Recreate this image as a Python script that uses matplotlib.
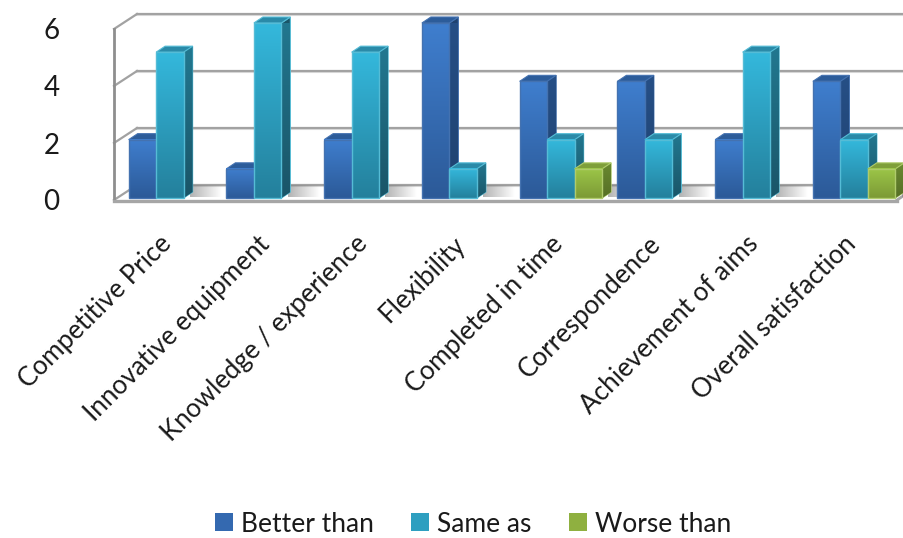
import numpy as np
import matplotlib
matplotlib.use("Agg")
import matplotlib.pyplot as plt
from matplotlib.colors import to_rgb
from matplotlib.patches import Polygon, Patch, Rectangle
from matplotlib.transforms import Affine2D

categories = ["Competitive Price", "Innovative equipment", "Knowledge / experience",
              "Flexibility", "Completed in time", "Correspondence",
              "Achievement of aims", "Overall satisfaction"]
better = [2, 1, 2, 6, 4, 4, 2, 4]
same = [5, 6, 5, 1, 2, 2, 5, 2]
worse = [0, 0, 0, 0, 1, 0, 0, 1]
series_names = ["Better than", "Same as", "Worse than"]
y_ticks = [0, 2, 4, 6]

W, H = 904, 538
plt.rcParams['font.family'] = ['Lato', 'DejaVu Sans']
fig = plt.figure(figsize=(W / 100, H / 100), dpi=100, facecolor='white')


def axes_px(x0, x1, ytop, ybot, **kw):
    return fig.add_axes([x0 / W, 1 - ybot / H, (x1 - x0) / W, (ybot - ytop) / H], **kw)


# wall / floor axes
wall = axes_px(114, 897, 29, 200)
wall.set_xlim(0, 8)
wall.set_ylim(0, 6)
wall.patch.set_alpha(0)
for s in wall.spines.values():
    s.set_visible(False)
wall.set_yticks(y_ticks)
wall.set_xticks([])
wall.tick_params(axis='y', length=0, pad=45, labelsize=20, labelcolor='#1a1a1a')
for t in wall.get_yticklabels():
    t.set_horizontalalignment('center')

wdx = 23 / 783 * 8
wdy = 15 / 171 * 6
GRID = '#A2A2A2'
wall.add_patch(Polygon([(0, 0), (8, 0), (8 + wdx, wdy), (wdx, wdy)], closed=True,
                       facecolor='#FFFFFF', edgecolor='none', zorder=1, clip_on=False))
for v in y_ticks:
    wall.plot([wdx, 8 + wdx], [v + wdy - 0.05] * 2, color='#DDDDDD', lw=1.5, zorder=1.1, clip_on=False)
    wall.plot([wdx, 8 + wdx], [v + wdy] * 2, color=GRID, lw=1.6, zorder=1.2, clip_on=False)
    wall.plot([0, wdx], [v, v + wdy], color=GRID, lw=1.6, zorder=1.2, clip_on=False)
wall.plot([0, 0], [0, 6], color='#8E8E8E', lw=2, zorder=2, clip_on=False)
wall.plot([0, 8], [-0.02, -0.02], color='#A6A6A6', lw=2.4, zorder=2, clip_on=False)
wall.plot([8, 8 + 0.8 * wdx], [0, 0.8 * wdy], color='#A6A6A6', lw=2.0, zorder=2, clip_on=False)

# bars axes
ax = axes_px(121, 903, 23, 198)
ax.set_xlim(0, 8)
ax.set_ylim(0, 6)
ax.patch.set_alpha(0)
for s in ax.spines.values():
    s.set_visible(False)
ax.set_yticks([])
x = np.arange(len(categories)) + 0.5
ax.set_xticks(x)
ax.set_xticklabels(categories, rotation=45, ha='right', rotation_mode='anchor',
                   fontsize=18.7, color='#1a1a1a')
ax.tick_params(axis='x', length=0, pad=24)
for lab in ax.get_xticklabels():
    lab.set_transform(lab.get_transform() + Affine2D().translate(-11, 0))

bw = 27.5 / 97.75
ddx = 9 / 97.75
ddy = 6 / 29.17

palette = [
    dict(front=('#3F7ECE', '#2C5A98'), side=('#264F86', '#1F4270'), top='#2C5C9A', edge='#4472B0'),
    dict(front=('#34B8DC', '#24809C'), side=('#227890', '#1A5568'), top='#2A8AA8', edge='#55BCD6'),
    dict(front=('#9CC648', '#7C9A36'), side=('#6A8A30', '#566F26'), top='#7F9F3A', edge='#AFCB6C'),
]


def gradient(axis, x0, x1, y0, y1, ctop, cbot, z, clip=None):
    c0, c1 = np.array(to_rgb(ctop)), np.array(to_rgb(cbot))
    t = np.linspace(0, 1, 64)[:, None, None]
    img = c0[None, None, :] * (1 - t) + c1[None, None, :] * t
    im = axis.imshow(img, extent=(x0, x1, y0, y1), origin='upper', aspect='auto',
                     interpolation='bilinear', zorder=z)
    if clip is not None:
        im.set_clip_path(clip)
    else:
        im.set_clip_on(False)
    return im


def shadow(axis, x0, width, z):
    n = 48
    img = np.ones((1, n, 4))
    img[..., :3] = 0.5
    img[0, :, 3] = np.linspace(0.6, 0, n)
    axis.imshow(img, extent=(x0, x0 + width, 0.03, 0.41), origin='upper', aspect='auto',
                interpolation='bilinear', zorder=z, clip_on=False)


z = 10
for i, cx in enumerate(x):
    vals = [better[i], same[i], worse[i]]
    last = max(j for j, v in enumerate(vals) if v > 0)
    shadow(ax, cx - 1.5 * bw + (last + 1) * bw + ddx * 0.7, 0.32, 5)
    for j, v in enumerate(vals):
        if v <= 0:
            continue
        st = palette[j]
        x0 = cx - 1.5 * bw + j * bw
        x1 = x0 + bw
        side = Polygon([(x1, 0), (x1 + ddx, ddy), (x1 + ddx, v + ddy), (x1, v)], closed=True,
                       facecolor=st['side'][1], edgecolor=st['edge'], lw=0.8, zorder=z,
                       clip_on=False)
        ax.add_patch(side)
        gradient(ax, x1, x1 + ddx, 0, v + ddy, st['side'][0], st['side'][1], z + 0.1, clip=side)
        top = Polygon([(x0, v), (x1, v), (x1 + ddx, v + ddy), (x0 + ddx, v + ddy)], closed=True,
                      facecolor=st['top'], edgecolor=st['edge'], lw=0.8, zorder=z + 0.2,
                      clip_on=False)
        ax.add_patch(top)
        gradient(ax, x0, x1, 0, v, st['front'][0], st['front'][1], z + 0.3)
        ax.add_patch(Rectangle((x0, 0), bw, v, facecolor='none', edgecolor=st['edge'], lw=1.0,
                               zorder=z + 0.4, clip_on=False))
        z += 1
ax.set_xlim(0, 8)
ax.set_ylim(0, 6)

handles = [Patch(facecolor=c, edgecolor='none') for c in ('#3469B0', '#2E9FC0', '#8FB040')]
leg = fig.legend(handles, series_names, loc='center', bbox_to_anchor=(473 / W, 1 - 524 / H),
                 ncol=3, frameon=False, fontsize=19, handlelength=0.68, handleheight=0.68,
                 handletextpad=0.3, columnspacing=1.42, borderpad=0, labelcolor='#1a1a1a')

fig.savefig('out.png', dpi=100, facecolor='white')
